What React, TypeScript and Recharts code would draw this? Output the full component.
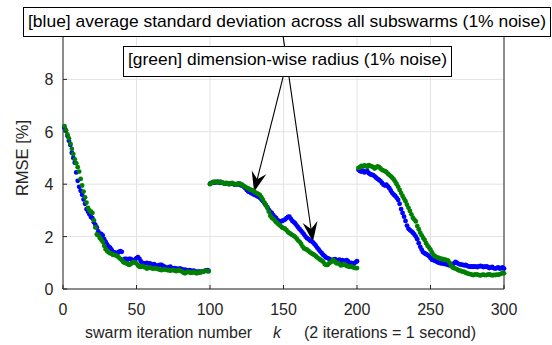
import React from 'react'
import { ScatterChart, Scatter, XAxis, YAxis, CartesianGrid, ReferenceLine } from 'recharts'

const X_TICKS = [0, 50, 100, 150, 200, 250, 300]
const Y_TICKS = [0, 2, 4, 6, 8]

// first iteration number of each run (swarm restarted at 100 and 200)
const SEG_STARTS = [1, 100, 201]

const blueSeg1 = [
  6.15, 6.05, 5.85, 5.66, 5.5, 5.2, 5.0, 4.82, 4.45, 4.13,
  3.9, 3.75, 3.6, 3.42, 3.25, 3.05, 2.95, 2.85, 2.75, 2.7,
  2.55, 2.45, 2.35, 2.2, 2.1, 2.1, 2.05, 1.9, 1.8, 1.7,
  1.62, 1.58, 1.5, 1.42, 1.4, 1.38, 1.35, 1.42, 1.44, 1.42,
  1.12, 1.15, 1.15, 1.12, 1.15, 1.15, 1.1, 1.08, 1.12, 1.18,
  1.22, 1.15, 1.05, 1.0, 0.98, 0.98, 1.0, 0.97, 0.98, 0.95,
  0.92, 0.95, 0.9, 0.88, 0.9, 0.92, 0.92, 0.88, 0.85, 0.82,
  0.8, 0.82, 0.85, 0.8, 0.78, 0.8, 0.78, 0.76, 0.78, 0.78,
  0.75, 0.72, 0.74, 0.72, 0.7, 0.72, 0.7, 0.68, 0.7, 0.66,
  0.65, 0.66, 0.66, 0.65, 0.67, 0.68, 0.7, 0.72, 0.7,
]
const blueSeg2 = [
  4.02, 4.05, 4.08, 4.06, 4.08, 4.1, 4.08, 4.05, 4.06, 4.05,
  4.02, 4.04, 4.03, 4.0, 4.02, 4.03, 4.0, 3.98, 4.0, 4.02,
  3.98, 3.96, 3.95, 3.9, 3.85, 3.78, 3.72, 3.7, 3.66, 3.64,
  3.6, 3.58, 3.55, 3.52, 3.48, 3.42, 3.35, 3.28, 3.2, 3.12,
  3.02, 2.95, 2.9, 2.82, 2.75, 2.7, 2.63, 2.58, 2.57, 2.6,
  2.62, 2.65, 2.7, 2.75, 2.76, 2.68, 2.6, 2.55, 2.5, 2.42,
  2.35, 2.28, 2.22, 2.15, 2.08, 2.0, 1.94, 1.9, 1.85, 1.82,
  1.78, 1.72, 1.65, 1.57, 1.5, 1.43, 1.37, 1.3, 1.25, 1.2,
  1.18, 1.15, 1.12, 1.1, 1.12, 1.14, 1.1, 1.08, 1.12, 1.06,
  1.1, 1.04, 1.08, 1.1, 1.05, 0.98, 1.0, 0.95, 0.98, 1.02,
  1.06,
]
const blueSeg3 = [
  4.55, 4.5, 4.48, 4.52, 4.45, 4.48, 4.5, 4.42, 4.38, 4.36,
  4.35, 4.3, 4.25, 4.2, 4.16, 4.12, 4.05, 3.98, 3.95, 3.98,
  3.92, 3.85, 3.75, 3.66, 3.6, 3.55, 3.48, 3.4, 3.25, 3.05,
  2.9, 2.76, 2.6, 2.42, 2.3, 2.25, 2.2, 2.15, 2.08, 2.0,
  1.9, 1.75, 1.61, 1.5, 1.4, 1.37, 1.33, 1.3, 1.25, 1.18,
  1.12, 1.1, 1.08, 1.05, 1.02, 1.0, 0.98, 0.98, 0.96, 0.95,
  0.94, 0.92, 0.9, 0.92, 0.92, 0.98, 1.03, 1.0, 0.96, 0.94,
  0.93, 0.92, 0.9, 0.92, 0.88, 0.86, 0.85, 0.86, 0.85, 0.86,
  0.85, 0.84, 0.86, 0.88, 0.86, 0.84, 0.85, 0.86, 0.84, 0.8,
  0.82, 0.84, 0.8, 0.78, 0.8, 0.82, 0.78, 0.8, 0.82, 0.78,
]

const greenSeg1 = [
  6.22, 6.05, 5.9, 5.75, 5.55, 5.35, 5.15, 4.95, 4.8, 4.65,
  4.48, 4.2, 3.95, 3.72, 3.5, 3.3, 3.1, 3.0, 2.95, 2.9,
  2.62, 2.35, 2.08, 2.05, 1.95, 1.88, 1.8, 1.65, 1.52, 1.45,
  1.4, 1.37, 1.35, 1.3, 1.3, 1.28, 1.25, 1.2, 1.15, 1.1,
  1.03, 1.0, 0.98, 0.95, 0.92, 0.95, 1.0, 1.03, 1.0, 0.98,
  0.9, 0.85, 0.85, 0.88, 0.85, 0.82, 0.78, 0.8, 0.82, 0.8,
  0.78, 0.78, 0.8, 0.78, 0.75, 0.74, 0.72, 0.74, 0.75, 0.74,
  0.72, 0.72, 0.7, 0.72, 0.73, 0.7, 0.68, 0.7, 0.72, 0.7,
  0.66, 0.62, 0.6, 0.63, 0.66, 0.64, 0.62, 0.63, 0.65, 0.62,
  0.6, 0.62, 0.63, 0.64, 0.66, 0.68, 0.7, 0.68, 0.67,
]
const greenSeg2 = [
  4.0, 4.04, 4.08, 4.1, 4.08, 4.06, 4.08, 4.1, 4.06, 4.04,
  4.02, 4.05, 4.03, 4.0, 4.03, 4.05, 4.02, 4.0, 3.98, 4.0,
  4.03, 4.0, 3.97, 3.93, 3.9, 3.86, 3.84, 3.8, 3.78, 3.76,
  3.72, 3.68, 3.65, 3.62, 3.58, 3.5, 3.4, 3.3, 3.2, 3.1,
  2.95, 2.8, 2.72, 2.68, 2.62, 2.55, 2.5, 2.45, 2.4, 2.35,
  2.32, 2.3, 2.25, 2.18, 2.13, 2.1, 2.06, 2.03, 1.98, 1.92,
  1.85, 1.8, 1.72, 1.62, 1.55, 1.52, 1.5, 1.45, 1.4, 1.37,
  1.33, 1.3, 1.25, 1.2, 1.16, 1.12, 1.08, 1.04, 0.95, 0.92,
  0.92, 0.98, 1.02, 1.06, 1.1, 1.04, 0.98, 1.0, 0.95, 0.9,
  0.92, 0.96, 0.92, 0.88, 0.86, 0.85, 0.86, 0.84, 0.82, 0.8,
  0.8,
]
const greenSeg3 = [
  4.62, 4.65, 4.7, 4.68, 4.72, 4.7, 4.66, 4.73, 4.7, 4.68,
  4.65, 4.6, 4.64, 4.68, 4.65, 4.6, 4.55, 4.52, 4.5, 4.46,
  4.4, 4.35, 4.3, 4.25, 4.18, 4.1, 4.0, 3.9, 3.78, 3.66,
  3.55, 3.45, 3.35, 3.22, 3.1, 2.98, 2.85, 2.72, 2.65, 2.58,
  2.4, 2.28, 2.15, 2.05, 1.95, 1.87, 1.75, 1.65, 1.58, 1.5,
  1.4, 1.3, 1.25, 1.22, 1.2, 1.18, 1.15, 1.15, 1.12, 1.12,
  1.1, 1.08, 1.0, 0.9, 0.82, 0.8, 0.78, 0.75, 0.72, 0.7,
  0.68, 0.66, 0.65, 0.62, 0.6, 0.58, 0.57, 0.55, 0.53, 0.55,
  0.56, 0.55, 0.53, 0.52, 0.54, 0.55, 0.53, 0.53, 0.55, 0.56,
  0.54, 0.52, 0.54, 0.53, 0.55, 0.54, 0.56, 0.58, 0.62, 0.6,
]

// arrow annotations, in data units: [x, y] start on a text box, end on the curve
const ARROW_GREEN = { from: [149.7, 8.09], to: [130, 3.71] }
const ARROW_BLUE = { from: [149.7, 9.66], to: [170, 1.8] }

const BLUE = '#0000ff'
const GREEN = '#008000'
const AXIS = '#262626'
const GRID = '#e3e3e3'
const SANS = 'Liberation Sans, Arial, Helvetica, sans-serif'

const toPoints = (segs: number[][]) =>
  segs.flatMap((seg, i) => seg.map((y, j) => ({ x: SEG_STARTS[i] + j, y })))

const blueData = toPoints([blueSeg1, blueSeg2, blueSeg3])
const greenData = toPoints([greenSeg1, greenSeg2, greenSeg3])

const XTick = (props: any) => {
  const { x, y, payload } = props
  return (
    <g>
      <line x1={x} y1={y} x2={x} y2={y - 4} stroke={AXIS} />
      <text x={x} y={y + 25.5} textAnchor="middle" fill={AXIS} fontSize={16} fontFamily={SANS}>
        {payload.value}
      </text>
    </g>
  )
}

const YTickLeft = (props: any) => {
  const { x, y, payload } = props
  return (
    <g>
      <line x1={x} y1={y} x2={x + 4} y2={y} stroke={AXIS} />
      <text x={x - 9.5} y={y + 6} textAnchor="end" fill={AXIS} fontSize={16} fontFamily={SANS}>
        {payload.value}
      </text>
    </g>
  )
}

const YTickRight = (props: any) => {
  const { x, y } = props
  return <line x1={x} y1={y} x2={x - 4} y2={y} stroke={AXIS} />
}

const Arrow = (props: any) => {
  const { x1, y1, x2, y2 } = props
  const dx = x2 - x1
  const dy = y2 - y1
  const len = Math.hypot(dx, dy)
  const ux = dx / len
  const uy = dy / len
  const nx = -uy
  const ny = ux
  const L = 20, W = 7.5, N = 13
  const bx = x2 - ux * L
  const by = y2 - uy * L
  const mx = x2 - ux * N
  const my = y2 - uy * N
  const pts = `${x2},${y2} ${bx + nx * W},${by + ny * W} ${mx},${my} ${bx - nx * W},${by - ny * W}`
  return (
    <g>
      <line x1={x1} y1={y1} x2={mx} y2={my} stroke="#000" strokeWidth={1.1} />
      <polygon points={pts} fill="#000" />
    </g>
  )
}

const dot = (color: string) => (p: any) => <circle cx={p.cx} cy={p.cy} r={2.4} fill={color} />

export default function App() {
  return (
    <div style={{ position: 'absolute', left: 0, top: 0, width: 552, height: 345, background: '#fff' }}>
      <ScatterChart width={552} height={345} margin={{ top: 27, right: 38, bottom: 26, left: 23 }}>
        <CartesianGrid yAxisId="left" stroke={GRID} />
        <XAxis
          type="number"
          dataKey="x"
          domain={[0, 300]}
          ticks={X_TICKS}
          interval={0}
          height={30}
          tickSize={0}
          tickMargin={0}
          tickLine={false}
          tick={<XTick />}
          axisLine={{ stroke: AXIS }}
        />
        <YAxis
          yAxisId="left"
          type="number"
          dataKey="y"
          domain={[0, 10]}
          ticks={Y_TICKS}
          interval={0}
          width={40}
          tickSize={0}
          tickMargin={0}
          tickLine={false}
          tick={<YTickLeft />}
          axisLine={{ stroke: AXIS }}
        />
        <YAxis
          yAxisId="right"
          orientation="right"
          type="number"
          domain={[0, 10]}
          ticks={Y_TICKS}
          interval={0}
          width={10}
          tickSize={0}
          tickMargin={0}
          tickLine={false}
          tick={<YTickRight />}
          axisLine={{ stroke: AXIS }}
        />
        <Scatter yAxisId="left" data={blueData} shape={dot(BLUE)} isAnimationActive={false} />
        <Scatter yAxisId="left" data={greenData} shape={dot(GREEN)} isAnimationActive={false} />
        <ReferenceLine
          yAxisId="left"
          segment={[
            { x: ARROW_GREEN.from[0], y: ARROW_GREEN.from[1] },
            { x: ARROW_GREEN.to[0], y: ARROW_GREEN.to[1] },
          ]}
          shape={<Arrow />}
        />
        <ReferenceLine
          yAxisId="left"
          segment={[
            { x: ARROW_BLUE.from[0], y: ARROW_BLUE.from[1] },
            { x: ARROW_BLUE.to[0], y: ARROW_BLUE.to[1] },
          ]}
          shape={<Arrow />}
        />
      </ScatterChart>
      <svg width={552} height={345} style={{ position: 'absolute', left: 0, top: 0, pointerEvents: 'none' }}>
        <text transform="translate(28,158) rotate(-90)" textAnchor="middle" fill={AXIS} fontSize={16.5} fontFamily={SANS}>
          RMSE [%]
        </text>
        <text x={85} y={338} fill={AXIS} fontSize={16} fontFamily={SANS}>swarm iteration number</text>
        <text x={273} y={338} fill={AXIS} fontSize={16} fontFamily={SANS} fontStyle="italic">k</text>
        <text x={304} y={338} fill={AXIS} fontSize={16} fontFamily={SANS}>(2 iterations = 1 second)</text>
        <rect x={23.5} y={7.5} width={527} height={29} fill="#fff" stroke="#000" />
        <text x={28} y={27} fontSize={17} fontFamily={SANS} fill="#000" textLength={518} lengthAdjust="spacingAndGlyphs">
          [blue] average standard deviation across all subswarms (1% noise)
        </text>
        <rect x={123.5} y={46.5} width={328} height={30} fill="#fff" stroke="#000" />
        <text x={128} y={65} fontSize={17} fontFamily={SANS} fill="#000" textLength={319} lengthAdjust="spacingAndGlyphs">
          [green] dimension-wise radius (1% noise)
        </text>
      </svg>
    </div>
  )
}
